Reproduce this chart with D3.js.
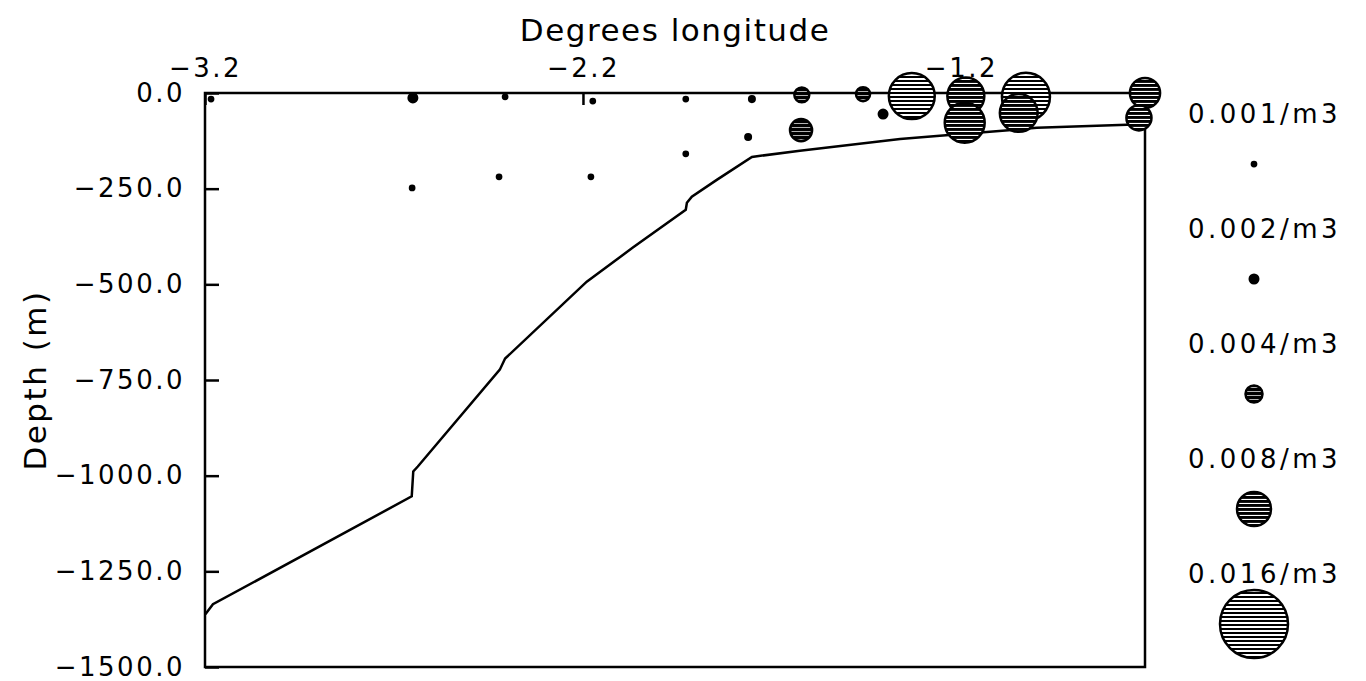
<!DOCTYPE html>
<html>
<head>
<meta charset="utf-8">
<script src="https://cdn.jsdelivr.net/npm/d3@7"></script>
<style>
  body { margin: 0; background: #fff; }
  text { font-family: "DejaVu Sans", sans-serif; fill: #000; }
</style>
</head>
<body>
<div class="chart"></div>
<script>
var svgWidth = 1366;
var svgHeight = 681;

// axis ticks
var lonTicks = [-3.2, -2.2, -1.2];
var depthTicks = [0, -250, -500, -750, -1000, -1250, -1500];

// sea floor profile
var bathyLon = [-3.199, -3.179, -2.653, -2.649, -2.637, -2.420, -2.406, -2.190, -2.068,
  -1.928, -1.925, -1.912, -1.846, -1.753, -1.626, -1.361, -1.256, -0.999, -0.761, -0.713];
var bathyDepth = [-1362, -1336, -1054, -989, -976, -723, -694, -493, -404,
  -305, -287, -271, -227, -167, -151, -120, -112, -91, -83, -81];

// samples: longitude, depth, concentration (/m3)
var sampleLon = [-3.184, -2.650, -2.406, -2.174, -1.928, -1.753, -1.763, -1.928, -2.422, -2.179, -2.652,
  -1.621, -1.459, -1.330, -1.406, -1.623, -1.187, -1.190, -1.028, -1.047, -0.713, -0.729];
var sampleDepth = [-16, -13, -10, -21, -16, -16, -115, -159, -219, -219, -248,
  -5, -3, -8, -55, -97, -8, -78, -10, -52, 0, -65];
var sampleConc = [0.001, 0.002, 0.001, 0.001, 0.001, 0.0013, 0.0013, 0.001, 0.001, 0.001, 0.001,
  0.0035, 0.0033, 0.0108, 0.002, 0.0052, 0.0087, 0.0094, 0.0113, 0.0089, 0.0071, 0.0059];

// legend
var legendConc = [0.001, 0.002, 0.004, 0.008, 0.016];
var legendLabels = ["0.001/m3", "0.002/m3", "0.004/m3", "0.008/m3", "0.016/m3"];

var svg = d3.select(".chart")
  .append("svg")
  .attr("width", svgWidth)
  .attr("height", svgHeight);

// hatch densities: darker for smaller circles, light for the largest
var defs = svg.append("defs");
function addHatch(id, gap, thick) {
  var p = defs.append("pattern")
    .attr("id", id)
    .attr("patternUnits", "userSpaceOnUse")
    .attr("width", 8)
    .attr("height", gap);
  p.append("rect").attr("width", 8).attr("height", gap).attr("fill", "#fff");
  p.append("rect").attr("width", 8).attr("height", thick).attr("fill", "#000");
}
addHatch("hatchDense", 4, 3.3);
addHatch("hatchDark", 4, 2.9);
addHatch("hatchLight", 4, 2);

var x = d3.scaleLinear().domain([-3.2, -0.713]).range([205, 1145]);
var y = d3.scaleLinear().domain([0, -1500]).range([93, 667]);
var r = d3.scaleLinear().domain([0, 0.016]).range([0, 34]);

function bubbleFill(rad) {
  if (rad < 6) return "#000";
  if (rad < 12) return "url(#hatchDense)";
  if (rad <= 21) return "url(#hatchDark)";
  return "url(#hatchLight)";
}

var fmt = d3.format(".1f");

// Left axis, ticks pointing inward
var leftAxis = d3.axisLeft(y)
  .tickValues(depthTicks)
  .tickFormat(fmt)
  .tickSizeInner(-14)
  .tickSizeOuter(0)
  .tickPadding(20);

var gy = svg.append("g")
  .attr("transform", `translate(${x.range()[0]},0)`)
  .call(leftAxis);
gy.select(".domain").remove();
gy.selectAll("line").attr("stroke", "#000").attr("stroke-width", 2.5);
gy.selectAll("text")
  .attr("font-size", 26)
  .style("letter-spacing", "2.5px")
  .style("font-family", "DejaVu Sans");

// Top axis
var topAxis = d3.axisTop(x)
  .tickValues(lonTicks)
  .tickFormat(fmt)
  .tickSizeInner(-12)
  .tickSizeOuter(0)
  .tickPadding(16);

var gx = svg.append("g")
  .attr("transform", `translate(0,${y(0)})`)
  .call(topAxis);
gx.select(".domain").remove();
gx.selectAll("line").attr("stroke", "#000").attr("stroke-width", 2.5);
gx.selectAll("text")
  .attr("font-size", 26)
  .style("letter-spacing", "2.5px")
  .style("font-family", "DejaVu Sans");

// Frame
svg.append("rect")
  .attr("x", x.range()[0])
  .attr("y", y(0))
  .attr("width", x.range()[1] - x.range()[0])
  .attr("height", y(-1500) - y(0))
  .attr("fill", "none")
  .attr("stroke", "#000")
  .attr("stroke-width", 2.5);

// Sea floor line
var line = d3.line()
  .x(function(d, i) { return x(bathyLon[i]); })
  .y(function(d, i) { return y(bathyDepth[i]); });

svg.append("path")
  .datum(bathyLon)
  .attr("d", line)
  .attr("fill", "none")
  .attr("stroke", "#000")
  .attr("stroke-width", 2.5);

// Samples
svg.append("g").selectAll("circle")
  .data(sampleLon)
  .enter()
  .append("circle")
  .attr("cx", function(d) { return x(d); })
  .attr("cy", function(d, i) { return y(sampleDepth[i]); })
  .attr("r", function(d, i) { return r(sampleConc[i]); })
  .attr("fill", function(d, i) { return bubbleFill(r(sampleConc[i])); })
  .attr("stroke", "#000")
  .attr("stroke-width", 2.5);

// Titles
svg.append("text")
  .attr("x", (x.range()[0] + x.range()[1]) / 2)
  .attr("y", 41)
  .attr("text-anchor", "middle")
  .attr("font-size", 31)
  .style("letter-spacing", "1.5px")
  .text("Degrees longitude");

svg.append("text")
  .attr("transform", `translate(46, ${(y(0) + y(-1500)) / 2}) rotate(-90)`)
  .attr("text-anchor", "middle")
  .attr("font-size", 31)
  .style("letter-spacing", "2.5px")
  .text("Depth (m)");

// Legend
var legend = svg.append("g");
legend.selectAll("text")
  .data(legendLabels)
  .enter()
  .append("text")
  .attr("x", 1188)
  .attr("y", function(d, i) { return 123 + i * 115; })
  .attr("font-size", 26)
  .style("letter-spacing", "3.5px")
  .text(function(d) { return d; });

legend.selectAll("circle")
  .data(legendConc)
  .enter()
  .append("circle")
  .attr("cx", 1254)
  .attr("cy", function(d, i) { return 164 + i * 115; })
  .attr("r", function(d) { return r(d); })
  .attr("fill", function(d) { return bubbleFill(r(d)); })
  .attr("stroke", "#000")
  .attr("stroke-width", 2.5);
</script>
</body>
</html>
